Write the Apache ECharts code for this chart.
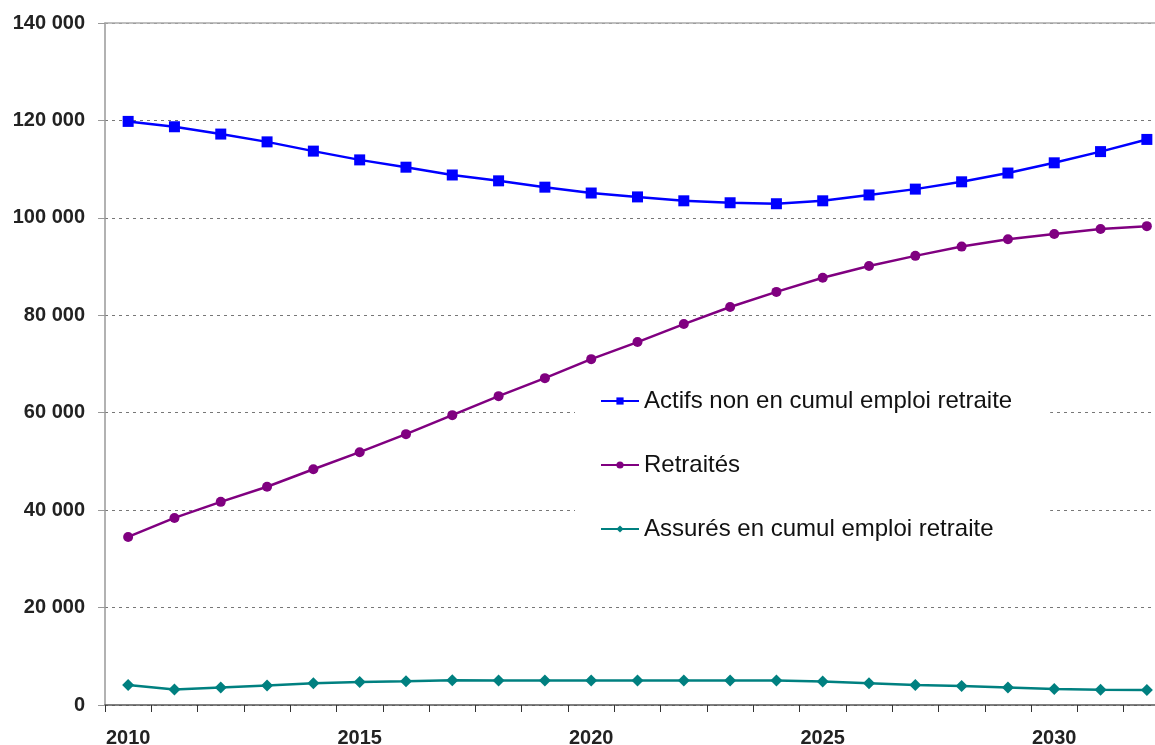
<!DOCTYPE html>
<html>
<head>
<meta charset="utf-8">
<script src="https://cdn.jsdelivr.net/npm/echarts@6/dist/echarts.min.js"></script>
<style>
  html, body { margin: 0; padding: 0; background: #fff; }
  #chart { width: 1155px; height: 745px; }
</style>
</head>
<body>
<div id="chart"></div>
<script>
const years = ['2010','2011','2012','2013','2014','2015','2016','2017','2018','2019','2020',
  '2021','2022','2023','2024','2025','2026','2027','2028','2029','2030','2031','2032'];
const actifs = [119800, 118700, 117200, 115600, 113700, 111900, 110400, 108800, 107600, 106300, 105100,
  104300, 103500, 103100, 102900, 103500, 104700, 105900, 107400, 109200, 111300, 113600, 116100];
const retraites = [34500, 38400, 41700, 44800, 48400, 51900, 55600, 59500, 63400, 67100, 71000,
  74500, 78200, 81700, 84800, 87700, 90100, 92200, 94100, 95600, 96700, 97700, 98300];
const cumul = [4100, 3200, 3600, 4000, 4450, 4700, 4850, 5100, 5050, 5050, 5050,
  5050, 5050, 5050, 5050, 4800, 4450, 4100, 3900, 3600, 3300, 3150, 3100];
const names = ['Actifs non en cumul emploi retraite', 'Retraités', 'Assurés en cumul emploi retraite'];

const chart = echarts.init(document.getElementById('chart'));
const font = 'Liberation Sans, Arial, sans-serif';

chart.setOption({
  backgroundColor: '#fff',
  animation: false,
  grid: { left: 105, width: 1065, top: 23, bottom: 40, outerBoundsMode: 'none', containLabel: false },
  legend: {
    orient: 'vertical',
    left: 575,
    top: 381,
    itemWidth: 38,
    itemHeight: 9,
    itemGap: 40,
    padding: [8, 38, 8, 25],
    backgroundColor: '#fff',
    textStyle: { fontFamily: font, fontSize: 24, color: '#111' },
    data: names
  },
  xAxis: [{
    type: 'category',
    data: years,
    boundaryGap: true,
    axisLine: { lineStyle: { color: '#555', width: 1.5 } },
    axisTick: { show: true, length: 7, interval: 0, lineStyle: { color: '#333' } },
    axisLabel: {
      interval: 4,
      margin: 23,
      fontFamily: font,
      fontSize: 20,
      fontWeight: 'bold',
      color: '#222'
    },
    splitLine: { show: false }
  }, {
    type: 'category',
    data: years,
    position: 'top',
    axisLine: { lineStyle: { color: '#aaa', width: 1.5 } },
    axisTick: { show: false },
    axisLabel: { show: false }
  }],
  yAxis: {
    type: 'value',
    min: 0,
    max: 140000,
    interval: 20000,
    axisLine: { show: true, lineStyle: { color: '#999', width: 1.5 } },
    axisTick: { show: true, length: 7, lineStyle: { color: '#999' } },
    axisLabel: {
      margin: 20,
      fontFamily: font,
      fontSize: 20,
      fontWeight: 'bold',
      color: '#222',
      formatter: v => v === 0 ? '0' : String(v).replace(/\B(?=(\d{3})+(?!\d))/g, ' ')
    },
    splitLine: { show: true, lineStyle: { color: '#777', type: [3, 4], width: 1.2 } }
  },
  series: [{
    name: names[0],
    type: 'line',
    data: actifs,
    symbol: 'rect',
    symbolSize: 11,
    color: '#0000ff',
    lineStyle: { width: 2.5 }
  }, {
    name: names[1],
    type: 'line',
    data: retraites,
    symbol: 'circle',
    symbolSize: 10,
    color: '#800080',
    lineStyle: { width: 2.5 }
  }, {
    name: names[2],
    type: 'line',
    data: cumul,
    symbol: 'diamond',
    symbolSize: 12,
    color: '#008080',
    lineStyle: { width: 2.5 }
  }]
});
</script>
</body>
</html>
